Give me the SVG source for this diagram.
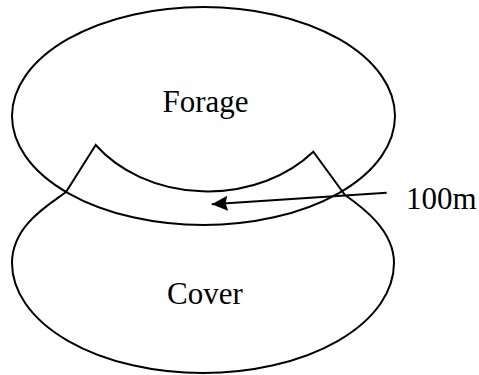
<svg xmlns="http://www.w3.org/2000/svg" width="479" height="375" viewBox="0 0 479 375">
  <style>
    .shape { fill: none; stroke: #000; stroke-width: 2; stroke-linejoin: miter; }
    .lbl { font-family: "Liberation Serif", "Times New Roman", serif; font-size: 31px; fill: #000; }
    .conn { stroke: #000; stroke-width: 2; fill: none; }
  </style>
  <defs>
    <marker id="arrow" markerUnits="userSpaceOnUse" markerWidth="17" markerHeight="15" refX="16" refY="7.5" orient="auto">
      <path d="M0,0 L16,7.5 L0,15 L2,7.5 Z" fill="#000"/>
    </marker>
  </defs>
  <rect width="479" height="375" fill="#fff"/>
  <g id="forage">
    <ellipse class="shape" cx="203.5" cy="116" rx="191.5" ry="109"/>
    <text class="lbl" x="205.5" y="112" text-anchor="middle">Forage</text>
  </g>
  <g id="cover">
    <path class="shape" d="M95.7,145 L66,192 C50,204 12,225 12,263 A191 110 0 0 0 394,263 C394,230 362,207 345,195 L313.3,151.7 A138 111.5 0 0 1 95.7,145 Z"/>
    <text class="lbl" x="205" y="304" text-anchor="middle">Cover</text>
  </g>
  <g id="label-100m">
    <text class="lbl" x="406" y="209">100m</text>
  </g>
  <g id="connectors">
    <line class="conn" x1="386.7" y1="192.8" x2="211.7" y2="204.3" marker-end="url(#arrow)"/>
  </g>
</svg>
